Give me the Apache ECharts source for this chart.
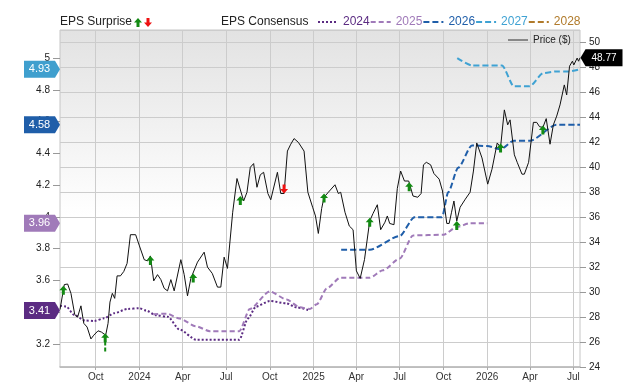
<!DOCTYPE html>
<html>
<head>
<meta charset="utf-8">
<script src="https://cdn.jsdelivr.net/npm/echarts@6/dist/echarts.min.js"></script>
<style>
  html, body { margin: 0; padding: 0; background: #fff; }
  #chart { width: 640px; height: 382px; }
</style>
</head>
<body>
<div id="chart"></div>
<script>
// ---- data ----
const priceDates = [
  '2023-07-18','2023-07-27','2023-08-03','2023-08-10','2023-08-18','2023-08-24','2023-08-31','2023-09-06','2023-09-13','2023-09-21',
  '2023-09-27','2023-10-06','2023-10-13','2023-10-22','2023-10-27','2023-10-31','2023-11-05','2023-11-10','2023-11-15','2023-11-22',
  '2023-11-29','2023-12-06','2023-12-13','2023-12-24','2024-01-01','2024-01-11','2024-01-18','2024-01-24','2024-01-31','2024-02-08',
  '2024-02-15','2024-02-22','2024-02-29','2024-03-07','2024-03-14','2024-03-28','2024-04-04','2024-04-11','2024-04-18','2024-05-02',
  '2024-05-16','2024-05-23','2024-06-02','2024-06-13','2024-06-20','2024-06-27','2024-07-04','2024-07-15','2024-07-24','2024-08-07',
  '2024-08-14','2024-08-21','2024-08-28','2024-09-04','2024-09-11','2024-09-18','2024-09-27','2024-10-03','2024-10-10','2024-10-17',
  '2024-10-24','2024-10-31','2024-11-07','2024-11-14','2024-11-21','2024-11-30','2024-12-12','2024-12-20','2024-12-30','2025-01-05',
  '2025-01-11','2025-01-18','2025-01-23','2025-02-01','2025-02-15','2025-02-22','2025-02-27','2025-03-08','2025-03-17','2025-03-25',
  '2025-04-01','2025-04-09','2025-04-18','2025-04-29','2025-05-06','2025-05-15','2025-05-22','2025-05-31','2025-06-05','2025-06-10',
  '2025-06-19','2025-06-26','2025-07-03','2025-07-11','2025-07-20','2025-07-29','2025-08-08','2025-08-15','2025-08-20','2025-08-26',
  '2025-09-04','2025-09-11','2025-09-22','2025-09-29','2025-10-08','2025-10-13','2025-10-18','2025-10-23','2025-10-29','2025-11-05',
  '2025-11-16','2025-11-26','2025-12-03','2025-12-10','2025-12-21','2026-01-02','2026-01-11','2026-01-22','2026-01-29','2026-02-06',
  '2026-02-13','2026-02-18','2026-02-27','2026-03-05','2026-03-15','2026-03-20','2026-03-29','2026-04-08','2026-04-15','2026-04-21',
  '2026-04-28','2026-05-05','2026-05-13','2026-05-20','2026-05-27','2026-06-03','2026-06-12','2026-06-17','2026-06-23','2026-06-29',
  '2026-07-02','2026-07-09','2026-07-12','2026-07-15'
];
const priceValues = [
  28.6,30.6,30.65,29.9,28.2,28.0,28.9,27.5,27.2,26.25,
  26.55,26.9,26.8,26.55,27.5,29.2,29.9,29.5,31.3,31.3,
  31.65,32.3,34.6,34.6,33.7,32.6,32.5,32.9,30.9,31.4,
  31.0,30.3,30.1,31.0,30.1,32.6,31.4,29.7,31.1,32.4,
  33.2,32.0,31.5,30.4,30.4,32.8,31.9,36.4,39.1,37.3,
  38.0,40.0,40.3,38.4,39.4,39.6,37.9,37.4,38.5,39.6,
  37.9,37.9,41.3,41.85,42.3,42.0,41.3,38.0,36.8,36.1,
  34.7,36.7,37.6,38.0,38.6,37.9,38.0,36.4,35.3,35.0,
  31.7,31.1,32.6,35.7,36.3,37.0,35.0,35.6,36.1,35.5,
  35.4,38.3,39.7,38.9,38.9,37.7,37.6,37.9,40.2,40.4,
  40.2,39.5,39.05,38.1,35.5,35.5,36.4,37.3,35.7,36.8,
  37.45,38.0,39.7,41.95,40.75,38.65,39.85,41.95,41.6,44.6,
  43.4,43.8,41.0,40.4,39.45,39.45,40.4,43.6,43.6,43.25,
  43.2,43.9,41.85,43.4,44.1,45.0,46.6,45.8,48.1,48.5,
  48.2,48.75,48.5,48.77
];

const eps2024Dates = ['2023-07-18','2023-07-31','2023-08-17','2023-09-08','2023-09-28','2023-10-19','2023-11-09','2023-12-07','2024-01-01','2024-01-15','2024-02-05','2024-03-01','2024-03-25','2024-04-29','2024-07-29','2024-08-16','2024-09-02','2024-10-01','2024-11-05','2024-11-26','2024-12-24'];
const eps2024Values = [3.44,3.435,3.382,3.347,3.344,3.361,3.393,3.42,3.424,3.41,3.38,3.37,3.29,3.226,3.226,3.36,3.435,3.47,3.455,3.43,3.41];

const eps2025Dates = ['2024-01-30','2024-02-28','2024-03-25','2024-04-29','2024-05-28','2024-07-29','2024-08-20','2024-10-01','2024-11-05','2024-12-03','2024-12-24','2025-01-08','2025-01-29','2025-02-26','2025-04-29','2025-05-27','2025-07-01','2025-07-29','2025-10-01','2025-10-29','2025-11-26','2026-01-01'];
const eps2025Values = [3.387,3.39,3.36,3.31,3.28,3.28,3.42,3.53,3.48,3.43,3.42,3.45,3.55,3.616,3.616,3.664,3.737,3.883,3.887,3.935,3.96,3.96];

const eps2026Dates = ['2025-02-28','2025-04-29','2025-07-01','2025-08-01','2025-09-28','2025-10-11','2025-11-01','2025-11-30','2026-01-01','2026-01-29','2026-02-26','2026-04-01','2026-05-27','2026-07-15'];
const eps2026Values = [3.793,3.793,3.879,3.998,3.998,4.155,4.31,4.45,4.446,4.426,4.48,4.48,4.58,4.58];

const eps2027Dates = ['2025-10-30','2025-11-30','2026-02-01','2026-02-26','2026-03-31','2026-04-29','2026-05-27','2026-06-21','2026-07-15'];
const eps2027Values = [5.0,4.954,4.954,4.822,4.822,4.906,4.916,4.916,4.93];

const surpriseUpDates = ['2023-07-25','2023-10-21','2024-01-24','2024-04-23','2024-07-31','2025-01-23','2025-04-29','2025-07-21','2025-10-29','2026-01-29','2026-04-28'];
const surpriseUpValues = [30.5,26.7,32.9,31.5,37.7,37.9,35.95,38.8,35.7,41.9,43.35];
const surpriseDownDates = ['2024-10-31'];
const surpriseDownValues = [37.9];
// dashed tail under the Oct 2023 arrow
const tailDates = ['2023-10-21','2023-10-21'];
const tailValues = [26.05, 25.15];

const quarterTicks = ['2023-10-01','2024-01-01','2024-04-01','2024-07-01','2024-10-01','2025-01-01','2025-04-01','2025-07-01','2025-10-01','2026-01-01','2026-04-01','2026-07-01'];
const epsTicks = [3.2, 3.4, 3.6, 3.8, 4, 4.2, 4.4, 4.6, 4.8, 5];
const badgeValues = [4.93, 4.58, 3.96, 3.41];
const badgeColors = ['#3f9fce', '#1f5ea9', '#a07ab9', '#5b2b82'];

const seriesNames = ['2024', '2025', '2026', '2027', '2028'];
const seriesColors = ['#5b2b82', '#a07ab9', '#1f5ea9', '#3fa2d3', '#b07a2a'];
const monthNames = ['Jan','Feb','Mar','Apr','May','Jun','Jul','Aug','Sep','Oct','Nov','Dec'];

const toTime = (s) => new Date(s + 'T00:00:00').getTime();
const zip = (ds, vs) => ds.map((d, i) => [toTime(d), vs[i]]);

const FONT = '"Liberation Sans", Arial, sans-serif';
const UP_ARROW = 'path://M4,0 L8,4.5 L5.5,4.5 L5.5,9 L2.5,9 L2.5,4.5 L0,4.5 Z';
const DOWN_ARROW = 'path://M4,9 L8,4.5 L5.5,4.5 L5.5,0 L2.5,0 L2.5,4.5 L0,4.5 Z';

const chart = echarts.init(document.getElementById('chart'));

const epsLine = (name, idx, ds, vs, dash) => ({
  name: name,
  type: 'line',
  xAxisIndex: 0,
  yAxisIndex: 1,
  data: zip(ds, vs),
  symbol: 'none',
  smooth: 0.25,
  smoothMonotone: 'x',
  z: 2,
  lineStyle: { color: seriesColors[idx], width: 2, type: dash },
  itemStyle: { color: seriesColors[idx] }
});

chart.setOption({
  animation: false,
  textStyle: { fontFamily: FONT },
  grid: {
    left: 60, right: 60, top: 30, bottom: 13,
    containLabel: false,
    show: true,
    borderColor: '#c6c6c6',
    borderWidth: 1,
    backgroundColor: {
      type: 'linear', x: 0, y: 0, x2: 0, y2: 1,
      colorStops: [
        { offset: 0, color: '#e2e2e2' },
        { offset: 0.55, color: '#ffffff' },
        { offset: 1, color: '#ffffff' }
      ]
    }
  },
  legend: [
    {
      left: 317, top: 16, padding: 0,
      itemWidth: 20, itemHeight: 12, itemGap: 0,
      itemStyle: { opacity: 0 },
      textStyle: { fontSize: 12, fontFamily: FONT },
      data: seriesNames.map((n, i) => ({ name: n, textStyle: { color: seriesColors[i] } }))
    },
    {
      left: 507, top: 35, padding: 0,
      itemWidth: 20, itemHeight: 12,
      itemStyle: { opacity: 0 },
      lineStyle: { color: '#888', width: 2, type: 'solid' },
      textStyle: { fontSize: 10, color: '#222', fontFamily: FONT },
      data: ['Price ($)']
    }
  ],
  // plain value axis holding timestamps, labelled by quarter
  xAxis: {
    type: 'value',
    min: toTime('2023-07-18'),
    max: toTime('2026-07-15'),
    axisLine: { lineStyle: { color: '#b8b8b8', width: 1.5 } },
    axisTick: { customValues: quarterTicks.map(toTime), length: 3, lineStyle: { color: '#aaa' } },
    axisLabel: {
      customValues: quarterTicks.map(toTime),
      fontSize: 10, color: '#333', margin: 5,
      formatter: (v) => {
        const d = new Date(v);
        return d.getMonth() === 0 ? String(d.getFullYear()) : monthNames[d.getMonth()];
      }
    },
    splitLine: { show: true, lineStyle: { color: '#cccccc', width: 1 } }
  },
  yAxis: [
    {
      type: 'value',
      position: 'right',
      min: 24, max: 51, interval: 2,
      axisLine: { show: false },
      axisTick: { show: true, length: 6, lineStyle: { color: '#999' } },
      axisLabel: { fontSize: 10, color: '#222', margin: 9, showMaxLabel: false },
      splitLine: { show: true, lineStyle: { color: '#cccccc', width: 1 } }
    },
    {
      type: 'value',
      position: 'left',
      min: 3.054, max: 5.177,
      axisLine: { show: false },
      axisTick: { show: true, customValues: epsTicks, length: 7, lineStyle: { color: '#999' } },
      axisLabel: { customValues: epsTicks, fontSize: 10, color: '#222', margin: 10 },
      splitLine: { show: false }
    }
  ],
  series: [
    epsLine('2024', 0, eps2024Dates, eps2024Values, [2, 2]),
    epsLine('2025', 1, eps2025Dates, eps2025Values, [5, 3]),
    epsLine('2026', 2, eps2026Dates, eps2026Values, [6, 3]),
    epsLine('2027', 3, eps2027Dates, eps2027Values, [6, 3]),
    epsLine('2028', 4, [], [], [6, 3]),
    {
      name: 'Price ($)',
      type: 'line',
      yAxisIndex: 0,
      data: zip(priceDates, priceValues),
      symbol: 'none',
      z: 3,
      lineStyle: { color: '#111', width: 1 },
      itemStyle: { color: '#111' }
    },
    {
      name: 'tail',
      type: 'line',
      yAxisIndex: 0,
      data: zip(tailDates, tailValues),
      symbol: 'none',
      z: 4,
      lineStyle: { color: '#138a13', width: 2, type: [4, 2] }
    },
    {
      name: 'surpriseUp',
      type: 'scatter',
      yAxisIndex: 0,
      data: zip(surpriseUpDates, surpriseUpValues),
      symbol: UP_ARROW,
      symbolSize: [8, 9],
      symbolOffset: [0, 4.5],
      z: 5,
      itemStyle: { color: '#138a13', opacity: 1 }
    },
    {
      name: 'surpriseDown',
      type: 'scatter',
      yAxisIndex: 0,
      data: zip(surpriseDownDates, surpriseDownValues),
      symbol: DOWN_ARROW,
      symbolSize: [8, 9],
      symbolOffset: [0, -4.5],
      z: 5,
      itemStyle: { color: '#ee1111', opacity: 1 }
    }
  ]
});

// badges and header texts
const graphics = [
  {
    type: 'text', left: 60, top: 16,
    style: { text: 'EPS Surprise', fontSize: 12, fill: '#222', fontFamily: FONT }
  },
  {
    type: 'polygon', x: 134, y: 18,
    shape: { points: [[4, 0], [8, 4.5], [5.5, 4.5], [5.5, 9], [2.5, 9], [2.5, 4.5], [0, 4.5]] },
    style: { fill: '#138a13' }
  },
  {
    type: 'polygon', x: 144, y: 18,
    shape: { points: [[4, 9], [8, 4.5], [5.5, 4.5], [5.5, 0], [2.5, 0], [2.5, 4.5], [0, 4.5]] },
    style: { fill: '#ee1111' }
  },
  {
    type: 'text', left: 221, top: 16,
    style: { text: 'EPS Consensus', fontSize: 12, fill: '#222', fontFamily: FONT }
  }
];

badgeValues.forEach((v, i) => {
  const y = chart.convertToPixel({ yAxisIndex: 1 }, v);
  graphics.push({
    type: 'group', x: 24, y: y - 8.5, z: 100, zlevel: 1,
    children: [
      { type: 'polygon', z: 100, zlevel: 1, shape: { points: [[0, 0], [31, 0], [36, 8.5], [31, 17], [0, 17]] }, style: { fill: badgeColors[i] } },
      { type: 'text', z: 101, zlevel: 1, x: 15.5, y: 8.5, style: { text: v.toFixed(2), fill: '#fff', fontSize: 11, fontFamily: FONT, align: 'center', verticalAlign: 'middle' } }
    ]
  });
});

const lastPrice = priceValues[priceValues.length - 1];
const lastY = chart.convertToPixel({ yAxisIndex: 0 }, lastPrice);
graphics.push({
  type: 'group', x: 580.5, y: lastY - 8.5, z: 100, zlevel: 1,
  children: [
    { type: 'polygon', z: 100, zlevel: 1, shape: { points: [[0, 8.5], [5, 0], [42, 0], [42, 17], [5, 17]] }, style: { fill: '#000' } },
    { type: 'text', z: 101, zlevel: 1, x: 23.5, y: 8.5, style: { text: lastPrice.toFixed(2), fill: '#fff', fontSize: 10, fontFamily: FONT, align: 'center', verticalAlign: 'middle' } }
  ]
});

chart.setOption({ graphic: graphics });
</script>
</body>
</html>
